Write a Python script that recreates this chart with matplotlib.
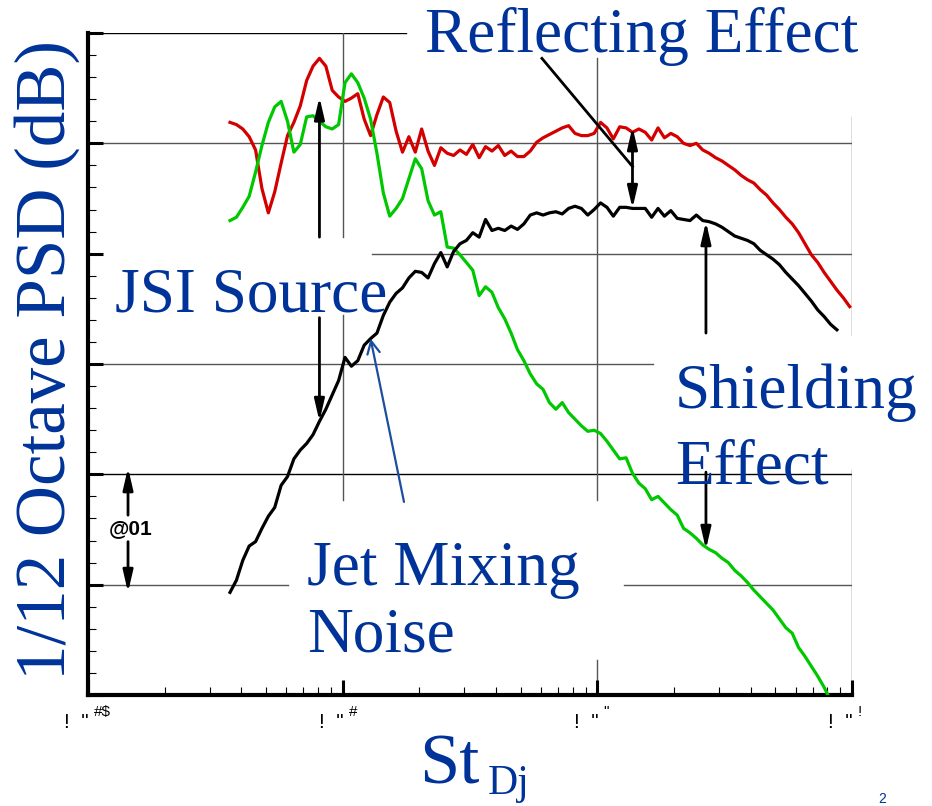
import numpy as np
import matplotlib
matplotlib.use("Agg")
import matplotlib.pyplot as plt
from matplotlib.ticker import FixedLocator, LogLocator, NullFormatter

# ---------------- data ----------------
# 1/12-octave band centre Strouhal numbers
st = [0.003611, 0.003826, 0.004053, 0.004294, 0.004550, 0.004820, 0.005107, 0.005410, 0.005732, 0.006073, 0.006434, 0.006817,
      0.007222, 0.007651, 0.008106, 0.008588, 0.009099, 0.009640, 0.010213, 0.010821, 0.011464, 0.012146, 0.012868, 0.013633,
      0.014444, 0.015303, 0.016213, 0.017177, 0.018198, 0.019281, 0.020427, 0.021642, 0.022929, 0.024292, 0.025737, 0.027267,
      0.028888, 0.030606, 0.032426, 0.034354, 0.036397, 0.038561, 0.040854, 0.043283, 0.045857, 0.048584, 0.051473, 0.054534,
      0.05778, 0.06121, 0.06485, 0.06871, 0.07279, 0.07712, 0.08171, 0.08657, 0.09171, 0.09717, 0.10295, 0.10907,
      0.11555, 0.12242, 0.12970, 0.13741, 0.14559, 0.15424, 0.16341, 0.17313, 0.18343, 0.19433, 0.20589, 0.21813,
      0.2311, 0.2448, 0.2594, 0.2748, 0.2912, 0.3085, 0.3268, 0.3463, 0.3668, 0.3887, 0.4118, 0.4363,
      0.4622, 0.4897, 0.5188, 0.5497, 0.5824, 0.6170, 0.6537, 0.6925, 0.7337, 0.7773, 0.8236, 0.8725,
      0.9244, 0.9794]

# reflected (red) spectrum, dB (relative)
psd_reflect = [51.9, 51.7, 51.3, 50.6, 49.4, 45.9, 43.7, 45.6, 48.2, 50.7,
               51.9, 53.4, 55.7, 57.0, 57.7, 57.0, 54.8, 54.2, 53.8, 54.1,
               54.5, 52.2, 50.7, 52.6, 54.2, 53.7, 51.1, 49.2, 50.6, 49.2,
               51.3, 49.3, 48.0, 49.6, 49.1, 48.9, 49.4, 49.0, 49.9, 48.7,
               49.7, 49.3, 49.8, 48.9, 49.3, 48.8, 48.8, 49.3, 50.1, 50.5,
               50.8, 51.1, 51.4, 51.6, 50.9, 50.7, 50.7, 50.9, 51.9, 51.4,
               50.4, 51.5, 51.4, 51.0, 51.3, 51.0, 50.3, 51.4, 50.5, 50.9,
               50.6, 50.0, 49.8, 50.0, 49.4, 49.1, 48.7, 48.4, 48.0, 47.6,
               47.1, 46.7, 46.4, 45.8, 45.3, 44.6, 44.0, 43.3, 42.7, 41.9,
               40.9, 39.9, 39.2, 38.3, 37.5, 36.7, 36.0, 35.2]

# shielded (black) spectrum
psd_shield = [9.3, 10.4, 12.2, 13.5, 13.9, 15.1, 16.2, 17.0, 19.0, 19.8,
              21.4, 22.2, 22.8, 23.6, 24.8, 25.9, 27.2, 28.5, 30.6, 29.8,
              30.3, 31.7, 32.3, 32.8, 34.4, 35.6, 36.4, 36.9, 37.8, 38.4,
              38.3, 37.8, 39.1, 40.1, 38.8, 40.2, 40.9, 41.2, 41.9, 41.5,
              43.1, 42.1, 42.3, 42.1, 42.5, 42.2, 42.7, 43.5, 43.7, 43.5,
              43.7, 43.8, 43.6, 44.1, 44.3, 44.1, 43.5, 44.0, 44.6, 44.2,
              43.4, 44.2, 44.2, 44.1, 44.1, 44.1, 43.3, 44.1, 43.4, 43.9,
              43.2, 43.1, 43.0, 43.5, 43.0, 42.9, 42.7, 42.4, 42.0, 41.6,
              41.4, 41.2, 40.9, 40.3, 39.9, 39.5, 39.0, 38.3, 37.7, 37.1,
              36.4, 35.7, 34.9, 34.3, 33.6, 33.1]

# isolated jet (green) spectrum
psd_jet = [43.0, 43.3, 44.2, 45.2, 47.4, 49.8, 51.9, 53.3, 53.8, 52.0,
           49.2, 49.9, 52.4, 52.5, 52.0, 51.5, 51.3, 51.7, 55.5, 56.3,
           55.5, 54.1, 52.2, 49.1, 45.5, 43.4, 44.1, 45.0, 46.8, 48.6,
           47.7, 44.8, 43.5, 43.8, 40.6, 40.5, 39.9, 39.2, 38.5, 36.2,
           37.0, 36.5, 35.1, 34.1, 32.8, 31.3, 30.3, 29.1, 28.2, 27.7,
           26.5, 25.9, 26.5, 25.6, 25.0, 24.4, 23.9, 24.0, 23.7, 23.0,
           22.2, 21.4, 21.5, 20.1, 19.2, 18.7, 17.7, 18.0, 17.4, 16.8,
           16.3, 15.1, 14.7, 14.2, 13.6, 13.2, 12.9, 12.4, 12.0, 11.3,
           10.8, 10.2, 9.5, 8.9, 8.3, 7.7, 6.9, 6.1, 5.6, 4.3,
           3.5, 2.6, 1.7, 0.7, -0.5]

xtick_pos = [0.001, 0.01, 0.1, 1.0]
xtick_main = ['!  "', '!  "', '!  "', '!  "']
xtick_sup = ['#$', '#', '"', '!']

# ---------------- figure ----------------
W, H = 932, 806
fig = plt.figure(figsize=(W / 100, H / 100), dpi=100)
L, R, T, B = 88, 852, 33, 695
ax = fig.add_axes([L / W, 1 - B / H, (R - L) / W, (B - T) / H])
ax.set_xscale('log')
ax.set_xlim(1e-3, 1.0)
ax.set_ylim(0, 60)

BLUE = '#003399'
SERIF = ['Liberation Serif', 'DejaVu Serif']
SANS = ['Liberation Sans', 'DejaVu Sans']


def fx(px):
    return (px - L) / (R - L)


def fy(py):
    return (B - py) / (B - T)


# spines
for s in ['top', 'right']:
    ax.spines[s].set_visible(False)
ax.spines['left'].set_linewidth(3.0)
ax.spines['bottom'].set_linewidth(3.0)

# ticks
ax.yaxis.set_major_locator(FixedLocator([0, 10, 20, 30, 40, 50, 60]))
ax.yaxis.set_minor_locator(FixedLocator([v for v in range(0, 61, 2) if v % 10]))
ax.xaxis.set_major_locator(FixedLocator(xtick_pos))
ax.xaxis.set_minor_locator(LogLocator(base=10, subs=np.arange(2, 10)))
ax.xaxis.set_minor_formatter(NullFormatter())
ax.set_xticklabels([])
ax.set_yticklabels([])
ax.tick_params(axis='both', which='major', direction='in', length=11, width=2.2, color='k')
ax.tick_params(axis='both', which='minor', direction='in', length=6, width=0.8, color='k')

# grid segments (interrupted by the text boxes)
gkw = dict(color='#555555', lw=1.0, zorder=1)
ax.axhline(60, xmin=0, xmax=fx(406), color='k', lw=1.0, zorder=1)
ax.axhline(50, xmin=0, xmax=1, **gkw)
ax.axhline(40, xmin=fx(372), xmax=1, **gkw)
ax.axhline(30, xmin=0, xmax=fx(653), **gkw)
ax.axhline(20, xmin=0, xmax=1, color='k', lw=1.0, zorder=1)
ax.axhline(10, xmin=0, xmax=fx(288), **gkw)
ax.axhline(10, xmin=fx(624), xmax=1, **gkw)
ax.axvline(0.01, ymin=fy(237), ymax=1, **gkw)
ax.axvline(0.01, ymin=fy(500), ymax=fy(315), **gkw)
ax.axvline(0.1, ymin=fy(500), ymax=fy(58), **gkw)
ax.axvline(0.1, ymin=0, ymax=fy(660), **gkw)
ax.axvline(1.0, ymin=fy(335), ymax=fy(117), **gkw)
ax.axvline(1.0, ymin=0, ymax=fy(470), **gkw)

# curves
lw = 2.3
ax.plot(st[:len(psd_reflect)], psd_reflect, color='#d40000', lw=lw, zorder=3, clip_on=True)
ax.plot(st[:len(psd_jet)], psd_jet, color='#00c800', lw=lw, zorder=3, clip_on=True)
ax.plot(st[:len(psd_shield)], psd_shield, color='k', lw=lw, zorder=3, clip_on=True)


def arrow(x0, y0, x1, y1, style='-|>,head_length=1.3,head_width=0.3', color='k', lw=2.0):
    ax.annotate('', xy=(x1, y1), xytext=(x0, y0),
                arrowprops=dict(arrowstyle=style, color=color, lw=lw,
                                shrinkA=0, shrinkB=0),
                zorder=4, annotation_clip=False)


# JSI source arrows
arrow(st[14], 41.5, st[14], 54.2)
arrow(st[14], 34.2, st[14], psd_shield[14])
# reflecting effect
ax.plot([0.0606, st[63]], [57.7, 47.9], color='k', lw=2.0, zorder=4)
arrow(st[63], psd_shield[63], st[63], psd_reflect[63] + 0.5,
      style='<|-|>,head_length=1.3,head_width=0.3')
# shielding effect
arrow(0.267, 32.8, 0.267, 42.9)
arrow(0.267, 20.2, 0.267, 13.2)
# jet mixing noise pointer
arrow(0.01741, 17.5, st[22], psd_shield[22], style='->,head_length=0.9,head_width=0.45',
      color='#1a4fa0', lw=1.6)
# 10 dB scale arrows
arrow(0.001436, 16.3, 0.001436, 20.6)
arrow(0.001436, 13.9, 0.001436, 9.3)


def ftext(px, py, s, **kw):
    fig.text(px / W, 1 - py / H, s, **kw)


tkw = dict(color=BLUE, family=SERIF, fontsize=45.5, ha='left', va='baseline', zorder=2)
ftext(425, 52, 'Reflecting Effect', **tkw)
ftext(115, 312, 'JSI Source', **tkw)
ftext(675, 408, 'Shielding', **tkw)
ftext(675, 483, 'Effect', **tkw)
ftext(307, 585, 'Jet Mixing', **tkw)
ftext(307, 652, 'Noise', **tkw)

# axis titles
ftext(47, 360, '1/12 Octave PSD (dB)', color=BLUE, family=SERIF, fontsize=51,
      rotation=90, ha='center', va='center')
ftext(419, 784, 'St', color=BLUE, family=SERIF, fontsize=52, ha='left', va='baseline')
ftext(488, 794, 'Dj', color=BLUE, family=SERIF, fontsize=30, ha='left', va='baseline')

# scale label
ftext(131, 529, '@01', family=SANS, fontsize=15, fontweight='bold', ha='center', va='center')

# x tick labels (as shown)
for xp, m, sp in zip(xtick_pos, xtick_main, xtick_sup):
    ax.annotate(m, xy=(xp, 0), xycoords=('data', 'axes fraction'), xytext=(1, -33),
                textcoords='offset pixels', ha='right', va='baseline',
                fontsize=15, family=SANS, annotation_clip=False)
    ax.annotate(sp, xy=(xp, 0), xycoords=('data', 'axes fraction'), xytext=(6, -21),
                textcoords='offset pixels', ha='left', va='baseline',
                fontsize=11, family=SANS, annotation_clip=False)

# slide number
ftext(882, 803, '2', color=BLUE, family=SANS, fontsize=10, ha='center', va='baseline')

fig.savefig('out.png', dpi=100)
